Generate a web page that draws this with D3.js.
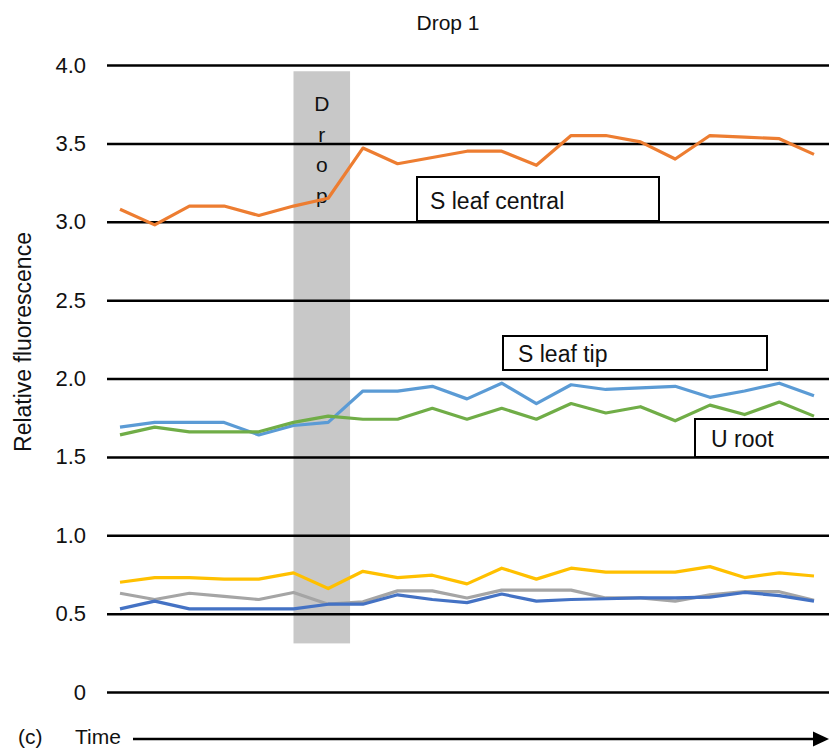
<html>
  <head>
    <style>
      body {
        margin: 0;
        background: white;
        font-family: "Liberation Sans", Arial, Helvetica, sans-serif;
      }
      svg {
        display: block;
      }
    </style>
    <script src="https://cdn.jsdelivr.net/npm/d3@7/dist/d3.min.js"></script>
  </head>

  <body>
    <svg id="chart"></svg>
  </body>
  <script>
    // time points along the x axis (not labelled in the figure)
    let timePoints = [1, 2, 3, 4, 5, 6, 7, 8, 9, 10, 11, 12, 13, 14, 15, 16, 17, 18, 19, 20, 21];
    let yTicks = [0, 0.5, 1, 1.5, 2, 2.5, 3, 3.5, 4];

    let sLeafCentral = [3.08, 2.98, 3.1, 3.1, 3.04, 3.1, 3.15, 3.47, 3.37, 3.41, 3.45, 3.45, 3.36, 3.55, 3.55, 3.51, 3.4, 3.55, 3.54, 3.53, 3.43];
    let sLeafTip = [1.69, 1.72, 1.72, 1.72, 1.64, 1.7, 1.72, 1.92, 1.92, 1.95, 1.87, 1.97, 1.84, 1.96, 1.93, 1.94, 1.95, 1.88, 1.92, 1.97, 1.89];
    let uRoot = [1.64, 1.69, 1.66, 1.66, 1.66, 1.72, 1.76, 1.74, 1.74, 1.81, 1.74, 1.81, 1.74, 1.84, 1.78, 1.82, 1.73, 1.83, 1.77, 1.85, 1.76];
    let yellowSeries = [0.7, 0.73, 0.73, 0.72, 0.72, 0.76, 0.66, 0.77, 0.73, 0.745, 0.69, 0.79, 0.72, 0.79, 0.765, 0.765, 0.765, 0.8, 0.73, 0.76, 0.74];
    let graySeries = [0.63, 0.59, 0.63, 0.61, 0.59, 0.635, 0.56, 0.575, 0.645, 0.645, 0.6, 0.65, 0.65, 0.65, 0.6, 0.6, 0.58, 0.62, 0.64, 0.64, 0.585];
    let darkBlueSeries = [0.53, 0.58, 0.53, 0.53, 0.53, 0.53, 0.56, 0.56, 0.62, 0.59, 0.57, 0.625, 0.58, 0.59, 0.595, 0.6, 0.6, 0.605, 0.635, 0.615, 0.58];

    // the drop period, as time-point index and value range
    let dropSpan = [5, 6.63];
    let dropValues = [0.31, 3.96];

    let labels = ["S leaf central", "S leaf tip", "U root"];

    function getConfig() {
      let width = 829;
      let height = 750;
      let container = d3.select("#chart");
      container.attr("width", width).attr("height", height);
      let gridLeft = 107;
      let gridRight = 829;
      return { width, height, container, gridLeft, gridRight };
    }

    function getScales() {
      let xScale = d3
        .scaleLinear()
        .domain([0, timePoints.length - 1])
        .range([120, 814]);
      let yScale = d3.scaleLinear().domain([0, 4]).range([692, 65]);
      return { xScale, yScale };
    }

    function drawDrop(config, scales) {
      let { container } = config;
      let { xScale, yScale } = scales;
      let x0 = xScale(dropSpan[0]);
      let x1 = xScale(dropSpan[1]);
      container
        .append("rect")
        .attr("x", x0)
        .attr("y", yScale(dropValues[1]))
        .attr("width", x1 - x0)
        .attr("height", yScale(dropValues[0]) - yScale(dropValues[1]))
        .attr("fill", "#c8c8c8");
    }

    function drawDropText(config, scales) {
      let { container } = config;
      let { xScale } = scales;
      let cx = (xScale(dropSpan[0]) + xScale(dropSpan[1])) / 2;
      container
        .append("g")
        .selectAll("text")
        .data("Drop".split(""))
        .enter()
        .append("text")
        .attr("x", cx)
        .attr("y", (d, i) => 111 + i * 30.5)
        .attr("text-anchor", "middle")
        .attr("font-size", 21)
        .attr("fill", "#111")
        .text((d) => d);
    }

    function drawGrid(config, scales) {
      let { container, gridLeft, gridRight } = config;
      let { yScale } = scales;
      let axis = d3
        .axisLeft(yScale)
        .tickValues(yTicks)
        .tickSize(-(gridRight - gridLeft))
        .tickPadding(21)
        .tickFormat((d) => (d === 0 ? "0" : d3.format(".1f")(d)));

      let g = container
        .append("g")
        .attr("transform", `translate(${gridLeft},0)`)
        .call(axis);
      g.select(".domain").remove();
      g.selectAll(".tick line").attr("stroke", "#000").attr("stroke-width", 2.5);
      g.selectAll(".tick text")
        .attr("font-size", 22)
        .attr("font-family", "Liberation Sans, Arial, sans-serif")
        .attr("fill", "#111");
    }

    function drawSeries(config, scales) {
      let { container } = config;
      let { xScale, yScale } = scales;
      let line = d3
        .line()
        .x((d, i) => xScale(i))
        .y((d) => yScale(d));

      let series = [
        { values: sLeafCentral, color: "#ED7D31" },
        { values: yellowSeries, color: "#FFC000" },
        { values: graySeries, color: "#A5A5A5" },
        { values: darkBlueSeries, color: "#4472C4" },
        { values: sLeafTip, color: "#5B9BD5" },
        { values: uRoot, color: "#70AD47" },
      ];

      container
        .append("g")
        .selectAll("path")
        .data(series)
        .enter()
        .append("path")
        .attr("d", (d) => line(d.values))
        .attr("fill", "none")
        .attr("stroke", (d) => d.color)
        .attr("stroke-width", 3.2)
        .attr("stroke-linejoin", "round");
    }

    function drawLabelBoxes(config) {
      let { container } = config;
      let boxes = [
        { text: labels[0], x: 417, y: 177, w: 242, h: 44, tx: 430, ty: 209 },
        { text: labels[1], x: 503, y: 336, w: 264, h: 34, tx: 518, ty: 362 },
        { text: labels[2], x: 695, y: 419, w: 150, h: 38, tx: 711, ty: 447 },
      ];
      let g = container.append("g");
      g.selectAll("rect")
        .data(boxes)
        .enter()
        .append("rect")
        .attr("x", (d) => d.x)
        .attr("y", (d) => d.y)
        .attr("width", (d) => d.w)
        .attr("height", (d) => d.h)
        .attr("fill", "white")
        .attr("stroke", "#000")
        .attr("stroke-width", 2);
      g.selectAll("text")
        .data(boxes)
        .enter()
        .append("text")
        .attr("x", (d) => d.tx)
        .attr("y", (d) => d.ty)
        .attr("font-size", 23)
        .attr("fill", "#111")
        .text((d) => d.text);
    }

    function drawTitles(config) {
      let { container } = config;
      container
        .append("text")
        .attr("x", 448)
        .attr("y", 30)
        .attr("text-anchor", "middle")
        .attr("font-size", 21)
        .attr("fill", "#111")
        .text("Drop 1");

      container
        .append("text")
        .attr("transform", "translate(31,342) rotate(-90)")
        .attr("text-anchor", "middle")
        .attr("font-size", 23)
        .attr("fill", "#111")
        .text("Relative fluorescence");

      container
        .append("text")
        .attr("x", 18)
        .attr("y", 744)
        .attr("font-size", 21)
        .attr("fill", "#111")
        .text("(c)");

      container
        .append("text")
        .attr("x", 75)
        .attr("y", 744)
        .attr("font-size", 21)
        .attr("fill", "#111")
        .text("Time");

      // time arrow
      container
        .append("line")
        .attr("x1", 133)
        .attr("x2", 815)
        .attr("y1", 739)
        .attr("y2", 739)
        .attr("stroke", "#000")
        .attr("stroke-width", 2.5);
      container
        .append("path")
        .attr("d", "M813,731.5L829,739L813,746.5Z")
        .attr("fill", "#000");
    }

    function drawChart() {
      let config = getConfig();
      let scales = getScales();
      drawDrop(config, scales);
      drawGrid(config, scales);
      drawDropText(config, scales);
      drawSeries(config, scales);
      drawLabelBoxes(config);
      drawTitles(config);
    }

    drawChart();
  </script>
</html>
